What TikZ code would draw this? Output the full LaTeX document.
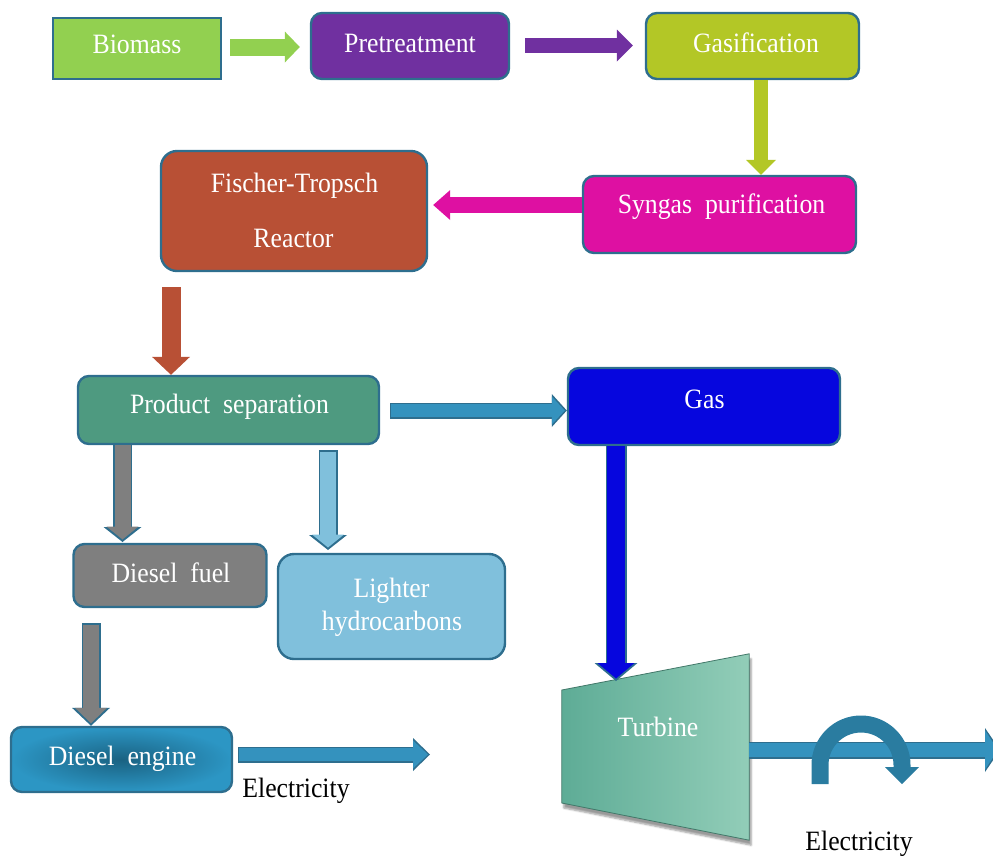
\documentclass[tikz,border=0pt]{standalone}
\usepackage{fontspec}
\setmainfont{Liberation Serif}[FakeStretch=0.92]
\usetikzlibrary{arrows.meta,calc,shadows.blur}

\definecolor{edge}{RGB}{46,110,142}
\definecolor{cbiomass}{RGB}{146,208,80}
\definecolor{cpretreat}{RGB}{112,48,160}
\definecolor{cgasif}{RGB}{179,199,38}
\definecolor{csyngas}{RGB}{222,16,162}
\definecolor{cft}{RGB}{184,80,53}
\definecolor{cproduct}{RGB}{78,154,128}
\definecolor{cgas}{RGB}{6,6,222}
\definecolor{cdiesel}{RGB}{127,127,127}
\definecolor{clight}{RGB}{128,192,220}
\definecolor{cengineA}{RGB}{26,98,130}
\definecolor{cengineB}{RGB}{44,150,196}
\definecolor{cturbA}{RGB}{94,172,150}
\definecolor{cturbB}{RGB}{146,205,184}
\definecolor{cflow}{RGB}{52,146,190}
\definecolor{cspin}{RGB}{42,124,160}

\begin{document}
\begin{tikzpicture}[x=1pt,y=-1pt,
  box/.style={draw=edge, line width=2.4pt, rounded corners=11pt, inner sep=0pt},
  lbl/.style={text=white, font=\fontsize{28}{32}\selectfont, inner sep=0pt, anchor=base},
  plain/.style={text=black, font=\fontsize{28}{32}\selectfont, inner sep=0pt, anchor=base},
  shaft/.style n args={3}{line width=#1, -{Triangle[width=#2,length=#3,line width=0pt]}}
]
\useasboundingbox (0,0) rectangle (993,855);

% ---------- process boxes ----------
\node[box, fill=cbiomass, rounded corners=0pt, minimum width=168pt, minimum height=61pt] (biomass) at (137,48.5) {};
\node[box, fill=cpretreat, minimum width=198pt, minimum height=66pt] (pretreat) at (410,46) {};
\node[box, fill=cgasif, minimum width=213pt, minimum height=66pt] (gasif) at (752.5,46) {};
\node[box, fill=csyngas, minimum width=273pt, minimum height=77pt] (syngas) at (719.5,214.5) {};
\node[box, fill=cft, rounded corners=16pt, minimum width=266pt, minimum height=120pt] (ft) at (294,211) {};
\node[box, fill=cproduct, minimum width=301pt, minimum height=68pt] (product) at (228.5,410) {};
\node[box, fill=cgas, minimum width=272pt, minimum height=77pt] (gas) at (704,406.5) {};
\node[box, fill=cdiesel, minimum width=193pt, minimum height=63pt] (diesel) at (170,575.5) {};
\node[box, fill=clight, rounded corners=16pt, minimum width=227pt, minimum height=105pt] (light) at (391.5,606.5) {};
\node[box, shade, inner color=cengineA, outer color=cengineB, minimum width=221pt, minimum height=65pt] (engine) at (121.5,759.5) {};

% ---------- turbine ----------
\node[minimum width=187pt, minimum height=186pt, inner sep=0pt] (turbine) at (655.5,747) {};
\shade[left color=cturbA, right color=cturbB, draw=cturbA!70!black, line width=0.8pt,
       blur shadow={shadow xshift=2pt, shadow yshift=-5pt, shadow blur steps=6}]
  (turbine.west |- 0,690) -- (turbine.north east) -- (turbine.south east) -- (turbine.west |- 0,803) -- cycle;

% ---------- labels ----------
\node[lbl] (tbiomass) at (137,53) {Biomass};
\node[lbl] (tpretreat) at (410,52) {Pretreatment};
\node[lbl] (tgasif) at (756,52) {Gasification};
\node[lbl] (tsyngas) at (721.5,213) {Syngas\ \ purification};
\node[lbl] (tftA) at (294.5,192) {Fischer-Tropsch};
\node[lbl] (tftB) at (293.5,247) {Reactor};
\node[lbl] (tproduct) at (229.5,413) {Product\ \ separation};
\node[lbl] (tgas) at (704.5,408) {Gas};
\node[lbl] (tdiesel) at (171,582) {Diesel\ \ fuel};
\node[lbl] (tlightA) at (391.5,597) {Lighter};
\node[lbl] (tlightB) at (392,630) {hydrocarbons};
\node[lbl] (tengine) at (122.5,765) {Diesel\ \ engine};
\node[lbl] (tturbine) at (658,736) {Turbine};
\node[plain] (elecA) at (296,797) {Electricity};
\node[plain] (elecB) at (859,850) {Electricity};

% ---------- connectors ----------
% top row
\draw[cbiomass, shaft={17pt}{31pt}{15pt}] ([xshift=8pt]biomass.east |- 0,47) -- ([xshift=-10pt]pretreat.west |- 0,47);
\draw[cpretreat, shaft={15pt}{32pt}{16pt}] ([xshift=15pt]pretreat.east |- 0,45.5) -- ([xshift=-12pt]gasif.west |- 0,45.5);
\draw[cgasif, shaft={14pt}{30pt}{15pt}] (761,0 |- gasif.south) -- (761,0 |- syngas.north);
\draw[csyngas, shaft={16pt}{30pt}{17pt}] (syngas.west |- 0,205) -- ([xshift=5pt]ft.east |- 0,205);
\draw[cft, shaft={19pt}{38pt}{18pt}] (171,287) -- (171,0 |- product.north);

% separation outputs (outlined arrows)
\draw[edge, shaft={16pt}{33pt}{15pt}] ([xshift=10pt]product.east |- 0,410.5) -- (gas.west |- 0,410.5);
\draw[cflow, shorten <=1pt, shorten >=2pt, shaft={13pt}{28pt}{13pt}] ([xshift=10pt]product.east |- 0,410.5) -- (gas.west |- 0,410.5);

\draw[edge, shaft={21pt}{43pt}{18pt}] (616,0 |- gas.south) -- (616,681);
\draw[cgas, shorten >=2.5pt, shaft={18pt}{37pt}{15.5pt}] (616,0 |- gas.south) -- (616,681);

\draw[edge, shaft={19pt}{38pt}{15pt}] (122.5,0 |- product.south) -- (122.5,542);
\draw[cdiesel, shorten >=2.5pt, shaft={16pt}{32pt}{13pt}] (122.5,0 |- product.south) -- (122.5,542);

\draw[edge, shaft={19pt}{38pt}{15pt}] (328,450) -- (328,550);
\draw[clight, shorten <=1.5pt, shorten >=2.5pt, shaft={16pt}{32pt}{13pt}] (328,450) -- (328,550);

\draw[edge, shaft={19pt}{38pt}{18pt}] (91,623) -- (91,0 |- engine.north);
\draw[cdiesel, shorten <=1.5pt, shorten >=2.5pt, shaft={16pt}{32pt}{15.5pt}] (91,623) -- (91,0 |- engine.north);

% electricity outputs
\coordinate (outA) at (430,754.5);
\draw[edge, shaft={16pt}{33pt}{17pt}] ([xshift=5pt]engine.east |- outA) -- (outA);
\draw[cflow, shorten <=1pt, shorten >=2pt, shaft={13pt}{28pt}{15pt}] ([xshift=5pt]engine.east |- outA) -- (outA);

\coordinate (outB) at (1000,750);
\draw[edge, shaft={17pt}{44pt}{15pt}] (turbine.east |- outB) -- (outB);
\draw[cflow, shorten >=2pt, shaft={14pt}{39pt}{13pt}] (turbine.east |- outB) -- (outB);

% rotation symbol on the shaft
\draw[cspin, line width=17pt, -{Triangle[width=34pt,length=17pt,line width=0pt]}]
  (820,784) -- (820,765) arc[start angle=180, end angle=360, radius=41] -- (902,784);
\end{tikzpicture}
\end{document}
